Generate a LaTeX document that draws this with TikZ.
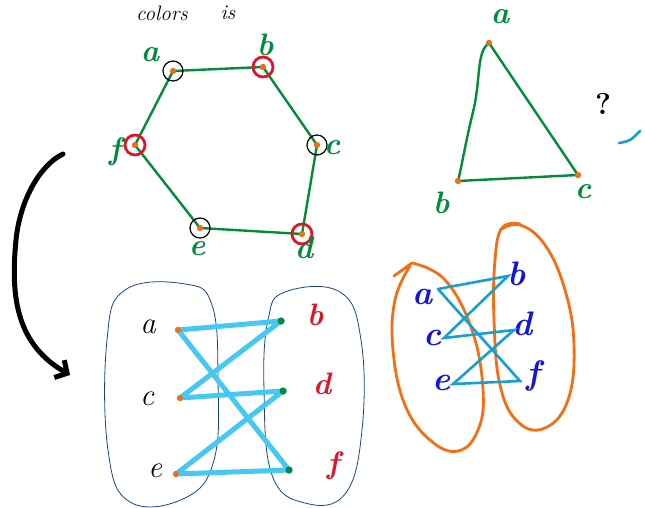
\documentclass[tikz,border=0pt]{standalone}
\usepackage{fontspec}
\usepackage{tikz}
\usetikzlibrary{arrows.meta}

\definecolor{hexgreen}{RGB}{0,140,60}
\definecolor{dotorange}{RGB}{240,110,20}
\definecolor{linkcyan}{RGB}{70,200,245}
\definecolor{linkblue}{RGB}{20,160,210}
\definecolor{blobblue}{RGB}{20,70,140}
\definecolor{penred}{RGB}{225,20,40}
\definecolor{penblue}{RGB}{20,20,220}
\definecolor{blobor}{RGB}{245,110,20}

\tikzset{
  dot/.style={circle, fill=dotorange, inner sep=0pt, minimum size=6pt},
  gdot/.style={circle, fill=hexgreen, inner sep=0pt, minimum size=7pt},
  ring/.style={circle, draw=#1, inner sep=0pt, minimum size=20pt},
  hand/.style={font=\fontsize{31}{33}\selectfont\itshape, inner sep=0pt},
  bighand/.style={font=\fontsize{34}{36}\selectfont\bfseries\itshape, inner sep=0pt, text=penblue},
  hexedge/.style={hexgreen, line width=2.4pt, line cap=round},
  link/.style={linkcyan, line width=5pt, line cap=round, line join=round},
  thinlink/.style={linkblue, line width=2.6pt, line cap=round},
}

\begin{document}
\begin{tikzpicture}[x=1pt, y=-1pt]
  \useasboundingbox (0,0) rectangle (645,508);

  % heading
  \node[hand, font=\fontsize{21}{22}\selectfont\itshape] (ttl) at (162,13) {colors};
  \node[hand, font=\fontsize{21}{22}\selectfont\itshape] (ttl2) at (228,13) {is};

  % hexagon
  \node[dot] (ha) at (173,71) {};
  \node[dot] (hb) at (263,67) {};
  \node[dot] (hc) at (317,145) {};
  \node[dot] (hd) at (302,234) {};
  \node[dot] (he) at (200,228) {};
  \node[dot] (hf) at (135,145) {};
  \draw[hexedge] (ha.center) -- (hb.center) -- (hc.center) -- (hd.center)
    -- (he.center) -- (hf.center) -- cycle;
  \foreach \v in {ha,hb,hc,hd,he,hf} \node[dot] at (\v) {};
  \node[ring=black, line width=1.2pt] (ra) at (ha) {};
  \node[ring=penred, line width=2.8pt] (rb) at (hb) {};
  \node[ring=black, line width=1.2pt] (rc) at (hc) {};
  \node[ring=penred, line width=2.8pt] (rd) at (hd) {};
  \node[ring=black, line width=1.2pt] (re) at (he) {};
  \node[ring=penred, line width=2.8pt] (rf) at (hf) {};
  \node[hand, text=hexgreen] (la) at (150,55) {\bfseries a};
  \node[hand, text=hexgreen] (lb) at (265,45) {\bfseries b};
  \node[hand, text=hexgreen] (lc) at (332,148) {\bfseries c};
  \node[hand, text=hexgreen] (ld) at (304,248) {\bfseries d};
  \node[hand, text=hexgreen] (le) at (197,249) {\bfseries e};
  \node[hand, text=hexgreen] (lf) at (115,152) {\bfseries f};

  % triangle
  \node[dot] (ta) at (489,43) {};
  \node[dot] (tb) at (458,181) {};
  \node[dot] (tc) at (578,175) {};
  \draw[hexedge, line join=round] (ta.center) .. controls (476,52) and (481,80) .. (473,112)
    .. controls (466,140) and (462,165) .. (tb.center) -- (tc.center) -- (ta.center);
  \foreach \v in {ta,tb,tc} \node[dot] at (\v) {};
  \node[hand, text=hexgreen] (tla) at (500,17) {\bfseries a};
  \node[hand, text=hexgreen] (tlb) at (441,203) {\bfseries b};
  \node[hand, text=hexgreen] (tlc) at (583,192) {\bfseries c};
  \node[hand, font=\fontsize{30}{32}\selectfont\bfseries] (qm) at (603,104) {?};
  \coordinate (bs) at (619,143);
  \coordinate (be) at (640,131);
  \draw[linkblue, line width=2.6pt, line cap=round] (bs) .. controls (630,141) .. (be);

  % big arrow
  \coordinate (arS) at (63,154);
  \coordinate (arE) at (70,375);
  \draw[line width=5pt, line cap=round, -{Straight Barb[length=9pt, width=20pt]}]
    (arS) .. controls (40,165) and (20,200) .. (16,240)
    .. controls (10,300) and (18,345) .. (arE);

  % bipartite sketch, left
  \draw[blobblue, line width=0.8pt] plot[smooth cycle, tension=0.7] coordinates
    {(125,290) (185,284) (212,305) (218,380) (214,460) (185,498) (130,502)
     (108,450) (107,340)};
  \draw[blobblue, line width=0.8pt] plot[smooth cycle, tension=0.7] coordinates
    {(285,292) (340,292) (361,340) (362,430) (345,494) (305,503) (272,475)
     (264,390) (268,320)};
  \node[dot] (pa) at (178,330) {};
  \node[dot] (pc) at (180,398) {};
  \node[dot] (pe) at (176,474) {};
  \node[gdot] (pb) at (281,321) {};
  \node[gdot] (pd) at (283,391) {};
  \node[gdot] (pf) at (289,470) {};
  \draw[link] (pa.center) -- (pb.center) -- (pc.center) -- (pd.center)
    -- (pe.center) -- (pf.center) -- (pa.center);
  \foreach \v in {pa,pc,pe} \node[dot] at (\v) {};
  \foreach \v in {pb,pd,pf} \node[gdot] at (\v) {};
  \node[hand] (qa) at (148,327) {a};
  \node[hand] (qc) at (147,399) {c};
  \node[hand] (qe) at (155,471) {e};
  \node[hand, text=penred] (qb) at (315,315) {\bfseries b};
  \node[hand, text=penred] (qd) at (322,384) {\bfseries d};
  \node[hand, text=penred] (qf) at (333,466) {\bfseries f};

  % bipartite sketch, right
  \draw[blobor, line width=2.8pt, line cap=round, line join=round]
    (394,276) -- (412,263) plot[smooth, tension=0.7] coordinates
    {(412,263) (445,280) (472,330) (483,390) (478,430) (458,451) (430,440)
     (405,405) (393,350) (395,300) (410,266)};
  \draw[blobor, line width=2.8pt, line cap=round] plot[smooth, tension=0.7] coordinates
    {(500,230) (520,225) (545,245) (565,290) (574,345) (568,400) (545,428)
     (518,422) (500,385) (494,320) (495,260) (502,228) (520,224)};
  \node[bighand] (ka) at (423,297) {a};
  \node[bighand] (kc) at (433,338) {c};
  \node[bighand] (ke) at (442,383) {e};
  \node[bighand] (kb) at (517,274) {b};
  \node[bighand] (kd) at (523,324) {d};
  \node[bighand] (kf) at (533,376) {f};
  \coordinate (ma) at (438,289);
  \coordinate (mc) at (444,338);
  \coordinate (me) at (453,384);
  \coordinate (mb) at (508,276);
  \coordinate (md) at (514,330);
  \coordinate (mf) at (520,381);
  \draw[thinlink] (ma) -- (mb) -- (mc) -- (md) -- (me) -- (mf) -- (ma);
\end{tikzpicture}
\end{document}
